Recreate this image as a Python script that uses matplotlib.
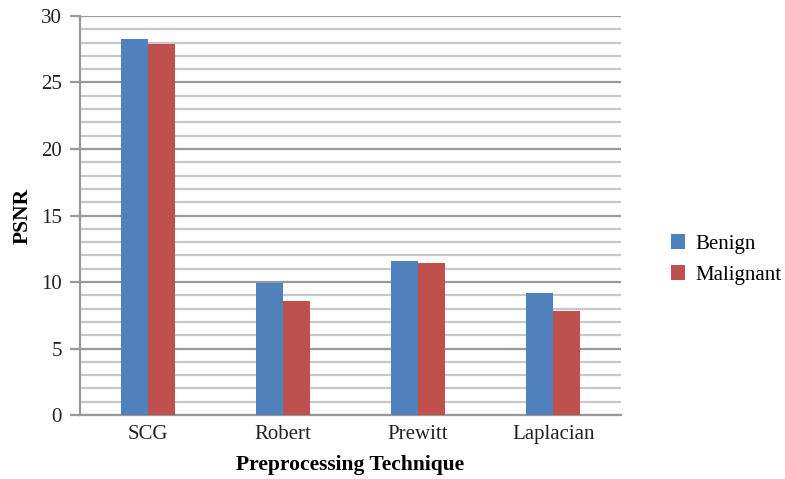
import numpy as np
import matplotlib
matplotlib.use("Agg")
import matplotlib.pyplot as plt
from matplotlib.ticker import MultipleLocator

techniques = ["SCG", "Robert", "Prewitt", "Laplacian"]
benign = [28.3, 9.9, 11.6, 9.2]
malignant = [27.9, 8.6, 11.4, 7.8]

plt.rcParams["font.family"] = ["Liberation Serif", "DejaVu Serif"]

fig = plt.figure(figsize=(7.85, 4.79), dpi=100)
ax = fig.add_axes([0.102, 0.1336, 0.689, 0.833])

x = np.arange(len(techniques))
w = 0.2
ax.bar(x - w / 2, benign, w, color="#4F81BD", label="Benign", zorder=3)
ax.bar(x + w / 2, malignant, w, color="#C0504D", label="Malignant", zorder=3)

ax.set_xlim(-0.5, len(techniques) - 0.5)
ax.set_ylim(0, 30)
ax.yaxis.set_major_locator(MultipleLocator(5))
ax.yaxis.set_minor_locator(MultipleLocator(1))

# excel-style gridlines: darker majors, light minors
ax.grid(axis="y", which="major", color="#999999", linewidth=1.6, zorder=0)
ax.grid(axis="y", which="minor", color="#c8c8c8", linewidth=1.6, zorder=0)
ax.set_axisbelow(True)

for side in ["top", "right"]:
    ax.spines[side].set_visible(False)
ax.spines["left"].set_color("#999999")
ax.spines["left"].set_linewidth(1.6)
ax.spines["bottom"].set_color("#999999")
ax.spines["bottom"].set_linewidth(1.6)

ax.set_xticks(x)
ax.set_xticklabels(techniques)
ax.tick_params(axis="x", length=0, labelsize=15, pad=7, colors="#222222")
ax.tick_params(axis="y", which="major", length=7, width=1.6, color="#999999",
               labelsize=15, pad=6, labelcolor="#222222")
ax.tick_params(axis="y", which="minor", length=0)

ax.set_xlabel("Preprocessing Technique", fontsize=15.5, fontweight="bold", labelpad=8)
ax.set_ylabel("PSNR", fontsize=15.5, fontweight="bold", labelpad=6)

fig.legend(loc="center left", bbox_to_anchor=(0.836, 0.458), frameon=False,
           fontsize=15, handlelength=0.7, handleheight=0.7, labelspacing=0.55,
           handletextpad=0.5, borderpad=0.2)

fig.savefig("out.png", dpi=100)
